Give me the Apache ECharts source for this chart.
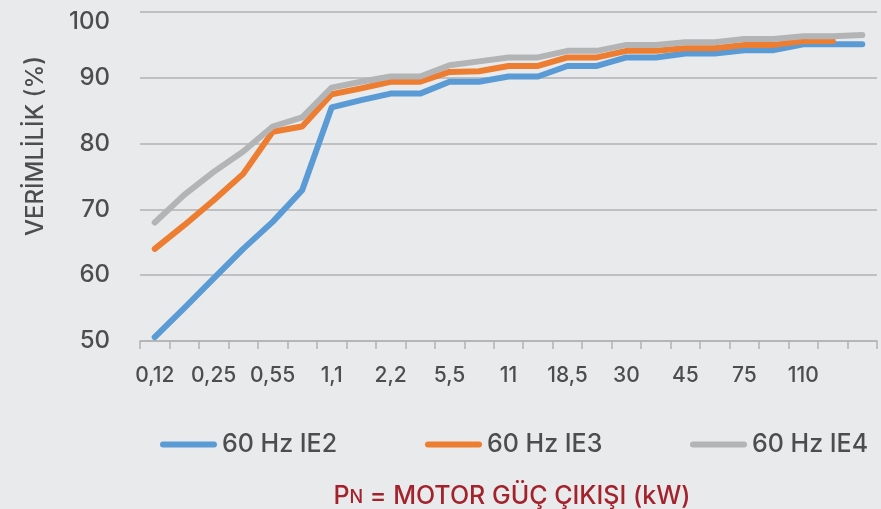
<!DOCTYPE html>
<html>
<head>
<meta charset="utf-8">
<script src="https://cdn.jsdelivr.net/npm/echarts@6/dist/echarts.min.js"></script>
<style>
html,body{margin:0;padding:0;background:#E9EAEC;}
#c{width:881px;height:509px;}
</style>
</head>
<body>
<div id="c"></div>
<script>
var categories = ['0,12','0,18','0,25','0,37','0,55','0,75','1,1','1,5','2,2','3,7','5,5','7,5','11','15','18,5','22','30','37','45','55','75','90','110','132','160'];
var seriesNames = ['60 Hz IE2','60 Hz IE3','60 Hz IE4'];
var ie2 = [50.6, 55.0, 59.5, 64.0, 68.1, 72.9, 85.5, 86.6, 87.6, 87.6, 89.4, 89.4, 90.2, 90.2, 91.8, 91.8, 93.1, 93.1, 93.7, 93.7, 94.2, 94.2, 95.1, 95.1, 95.1];
var ie3 = [64.0, 67.6, 71.4, 75.4, 81.8, 82.6, 87.5, 88.4, 89.4, 89.4, 90.9, 91.0, 91.8, 91.8, 93.1, 93.1, 94.1, 94.1, 94.5, 94.5, 95.0, 95.0, 95.6, 95.6, null];
var ie4 = [68.0, 72.2, 75.7, 78.8, 82.6, 84.0, 88.5, 89.4, 90.2, 90.2, 91.9, 92.5, 93.1, 93.1, 94.1, 94.1, 95.0, 95.0, 95.4, 95.4, 95.9, 95.9, 96.3, 96.3, 96.5];
var yTicks = {min: 50, max: 100, interval: 10};

var colors = ['#5B9BD5', '#ED7D31', '#B3B4B6'];
var textColor = '#4D4D4F';
var font = 'Inter';
var weight = 500;
var iconPath = 'path://M3,0L54,0A3,3,0,0,1,54,6L3,6A3,3,0,0,1,3,0Z';

function mkSeries(name, data, color) {
  return {
    name: name, type: 'line', data: data, symbol: 'none', color: color,
    lineStyle: {color: color, width: 6, cap: 'round', join: 'round'},
    itemStyle: {color: color},
    connectNulls: false, animation: false
  };
}
function mkLegend(name, left) {
  return {
    data: [name], left: left, top: 432, padding: 0, itemWidth: 57, itemHeight: 6,
    icon: iconPath, itemStyle: {borderWidth: 0},
    textStyle: {fontFamily: font, fontWeight: weight, fontSize: 25, color: textColor}
  };
}

var chart = echarts.init(document.getElementById('c'), null, {renderer: 'canvas'});
chart.setOption({
  backgroundColor: '#E9EAEC',
  animation: false,
  grid: {left: 140, right: 4, top: 12, bottom: 168, containLabel: false},
  legend: [mkLegend(seriesNames[0], 160), mkLegend(seriesNames[1], 425), mkLegend(seriesNames[2], 690)],
  xAxis: {
    type: 'category', data: categories, boundaryGap: true,
    axisLine: {show: true, lineStyle: {color: '#B2B2B4', width: 1.5}},
    axisTick: {show: true, interval: 0, length: 8, lineStyle: {color: '#B2B2B4', width: 1.5}},
    axisLabel: {
      interval: function (i) { return i % 2 === 0 && i < 24; },
      margin: 24, fontFamily: font, fontWeight: weight, fontSize: 21, color: textColor
    },
    splitLine: {show: false}
  },
  yAxis: {
    type: 'value', min: yTicks.min, max: yTicks.max, interval: yTicks.interval,
    axisLine: {show: false}, axisTick: {show: false},
    axisLabel: {
      margin: 30, fontFamily: font, fontWeight: weight, fontSize: 24, color: textColor,
      formatter: function (v) { return v === yTicks.max ? '{t|' + v + '}' : String(v); },
      rich: {t: {fontFamily: font, fontWeight: weight, fontSize: 24, color: textColor, padding: [20, 0, 0, 0]}}
    },
    splitLine: {show: true, lineStyle: {color: '#B2B2B4', width: 1.5}}
  },
  series: [mkSeries(seriesNames[0], ie2, colors[0]), mkSeries(seriesNames[1], ie3, colors[1]), mkSeries(seriesNames[2], ie4, colors[2])],
  graphic: [
    {
      type: 'text', x: 36, y: 146, rotation: Math.PI / 2,
      style: {text: 'VERİMLİLİK (%)', x: 0, y: 0, align: 'center', verticalAlign: 'middle',
        fontFamily: font, fontWeight: weight, fontSize: 24, fill: textColor}
    },
    {
      type: 'text', x: 512, y: 496,
      style: {
        text: '{a|P}{b|N}{a| = MOTOR GÜÇ ÇIKIŞI (kW)}', x: 0, y: 0, align: 'center', verticalAlign: 'middle',
        rich: {
          a: {fontFamily: font, fontWeight: weight, fontSize: 25, fill: '#A3222B', verticalAlign: 'bottom'},
          b: {fontFamily: font, fontWeight: weight, fontSize: 18, fill: '#A3222B', verticalAlign: 'bottom', padding: [0, 0, 2, 0]}
        }
      }
    }
  ]
});
</script>
</body>
</html>
